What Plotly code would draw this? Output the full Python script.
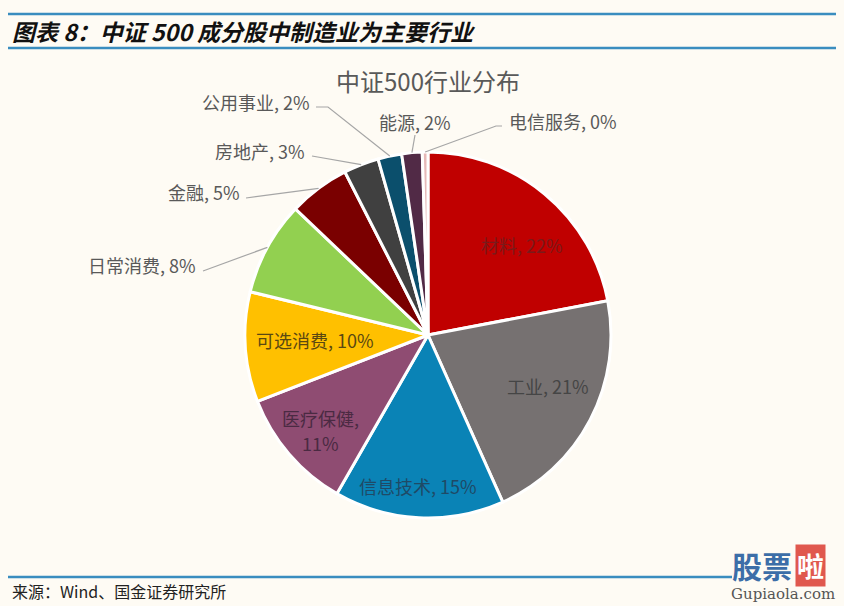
import math
import plotly.graph_objects as go

W, H = 844, 606

sectors = ["材料", "工业", "信息技术", "医疗保健", "可选消费", "日常消费",
           "金融", "房地产", "公用事业", "能源", "电信服务"]
shares = [22.0, 21.3, 15.0, 10.8, 9.7, 8.3, 5.4, 3.1, 2.1, 1.8, 0.5]
colors = ["#C00000", "#767171", "#0A83B6", "#8F4C72", "#FFC000", "#92D050",
          "#7A0000", "#404040", "#0B4F6C", "#512A46", "#E6B9B8"]

# pie position in pixels
cx, cy, r = 428, 335, 183


def px(x):
    return x / W


def py(y):
    return 1 - y / H


def label_text(name, v):
    return "{}, {:.0f}%".format(name, v)


def note(x, y, text, size, color, xanchor="center", family="Noto Sans CJK SC", **kw):
    return dict(x=px(x), y=py(y), xref="paper", yref="paper", text=text,
                showarrow=False, xanchor=xanchor, yanchor="middle",
                font=dict(size=size, color=color, family=family), **kw)


# inside labels: name -> (x, y, text colour)
inside = {
    "材料": (522, 245, "#7A1A1A"),
    "工业": (548, 386, "#454545"),
    "信息技术": (418, 486, "#1F4A66"),
    "医疗保健": (320, 418, "#4A2A42"),
    "可选消费": (315, 340, "#5A4812"),
}
# outside labels: name -> (text x, text y, anchor, leader start points)
outside = {
    "日常消费": (198, 265, "right", [(203, 271)]),
    "金融": (242, 192, "right", [(246, 198)]),
    "房地产": (307, 151, "right", [(312, 156)]),
    "公用事业": (312, 102, "right", [(316, 107), (328, 107)]),
    "能源": (415, 122, "center", [(415, 135)]),
    "电信服务": (507, 121, "left", [(502, 126), (496, 126)]),
}

fig = go.Figure()
fig.add_trace(go.Pie(
    labels=sectors, values=shares, sort=False, direction="clockwise",
    rotation=0, textinfo="none", hoverinfo="label+percent",
    marker=dict(colors=colors, line=dict(color="#FFFFFF", width=3)),
    domain=dict(x=[px(cx - r), px(cx + r)], y=[py(cy + r), py(cy - r)]),
    showlegend=False,
))

annotations = []
shapes = []
cum = 0.0
total = sum(shares)
for name, v in zip(sectors, shares):
    mid = (cum + v / 2) / total * 2 * math.pi
    cum += v
    ex = cx + r * math.sin(mid)
    ey = cy - r * math.cos(mid)
    txt = label_text(name, v)
    if name in inside:
        x, y, c = inside[name]
        if name == "医疗保健":
            # wrapped over two lines in the original
            first, second = txt.split(" ")
            annotations.append(note(x, y, first, 18, c))
            annotations.append(note(x, y + 25, second, 18, c))
        else:
            annotations.append(note(x, y, txt, 18, c))
    else:
        x, y, anchor, pts = outside[name]
        annotations.append(note(x, y, txt, 18, "#595959", xanchor=anchor))
        path = "M " + " L ".join("{},{}".format(px(a), py(b)) for a, b in pts + [(ex, ey)])
        shapes.append(dict(type="path", path=path, xref="paper", yref="paper",
                           line=dict(color="#A6A6A6", width=1.2)))

# chart title
annotations.append(note(428, 80, "中证500行业分布", 24, "#595959"))
# report header and footer
annotations.append(note(10, 31, "<b><i>图表 8：中证 500 成分股中制造业为主要行业</i></b>",
                        23, "#111111", xanchor="left"))
annotations.append(note(10, 591, "来源：Wind、国金证券研究所", 16, "#222222", xanchor="left"))
# watermark
annotations.append(note(762, 565, "<b>股票</b>", 30, "#3C6EA8"))
annotations.append(note(810, 565, "<b>啦</b>", 27, "#FFFFFF", bgcolor="#E0584E", borderpad=1))
annotations.append(note(783, 594, "Gupiaola.com", 15, "#555555", family="DejaVu Serif"))

for y0 in (14, 48):
    shapes.append(dict(type="line", xref="paper", yref="paper",
                       x0=px(8), x1=px(836), y0=py(y0), y1=py(y0),
                       line=dict(color="#3A8DBF", width=2.5)))
shapes.append(dict(type="line", xref="paper", yref="paper",
                   x0=px(8), x1=px(732), y0=py(577), y1=py(577),
                   line=dict(color="#3A8DBF", width=2.5)))

fig.update_layout(
    width=W, height=H, margin=dict(l=0, r=0, t=0, b=0),
    paper_bgcolor="#FEFBF4", plot_bgcolor="#FEFBF4",
    annotations=annotations, shapes=shapes,
)

fig.write_html("out.html", config={"displayModeBar": False},
               post_script="document.body.style.margin='0';")
